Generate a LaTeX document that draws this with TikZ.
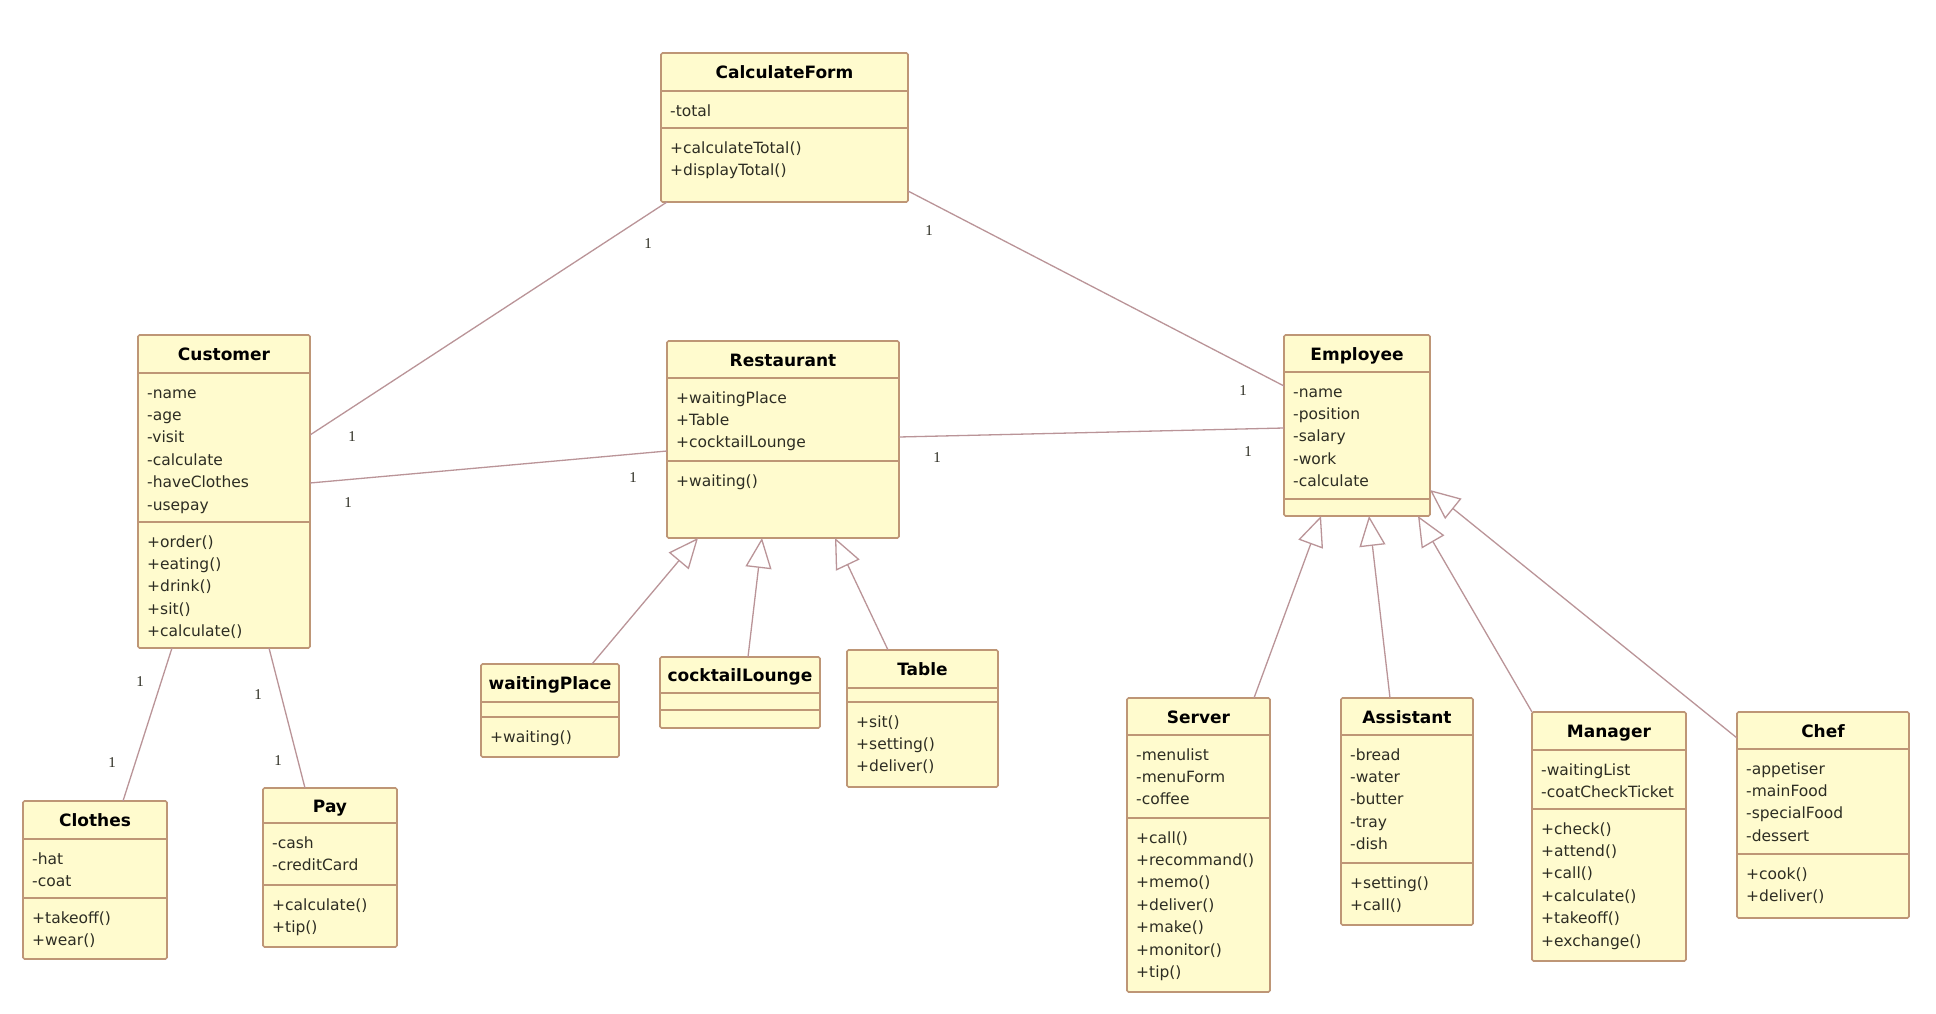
\documentclass[tikz,border=0pt]{standalone}
\usepackage{fontspec}
\setmainfont{DejaVu Sans}
\newfontfamily\ttlfont{DejaVu Sans}
\newfontfamily\numfont{Liberation Serif}
\usetikzlibrary{arrows.meta,calc}
\definecolor{boxc}{RGB}{190,150,118}
\definecolor{fillc}{RGB}{255,251,206}
\definecolor{linec}{RGB}{186,148,152}
\definecolor{txtc}{RGB}{45,45,35}
\tikzset{
 x=1pt,y=-1pt,
 cls/.style={draw=boxc, fill=fillc, line width=1.6pt, rounded corners=1.5pt, anchor=north west, inner sep=0pt, outer sep=0pt},
 sepl/.style={draw=boxc, line width=1.4pt},
 ttl/.style={font=\ttlfont\bfseries\fontsize{17}{20}\selectfont, anchor=base, inner sep=0pt},
 lst/.style={font=\fontsize{15.5}{22.4}\selectfont, align=left, anchor=north west, inner sep=0pt, text=txtc},
 assoc/.style={draw=linec, line width=1.3pt},
 gen/.style={draw=linec, line width=1.3pt, -{Triangle[open, length=30pt, width=26pt]}},
 mult/.style={font=\numfont\fontsize{15}{15}\selectfont, text=txtc, inner sep=0pt},
}
\newcommand\umlcls[8]{%
 \node[cls, minimum width=#4pt, minimum height=#5pt] (#1) at (#2,#3) {};
 \draw[sepl] ($(#1.north west)+(0,#6)$) -- ($(#1.north east)+(0,#6)$);
 \draw[sepl] ($(#1.north west)+(0,#7)$) -- ($(#1.north east)+(0,#7)$);
 \node[ttl] (#1-t) at ($(#1.north)+(0,#6/2+6.5)$) {#8};
}
\newcommand\umltext[4]{\node[lst] (#1-#4) at ($(#1.north west)+(9,#2+9.3)$) {\strut #3};}
\begin{document}
\begin{tikzpicture}
\useasboundingbox[fill=white] (0,0) rectangle (1936,1014);
% classes
\umlcls{calc}{661}{53}{247}{149}{38}{75}{CalculateForm}
\umltext{calc}{38}{-total}{a}
\umltext{calc}{75}{+calculateTotal()\\+displayTotal()}{m}

\umlcls{cust}{138}{335}{172}{313}{38}{187}{Customer}
\umltext{cust}{38}{-name\\-age\\-visit\\-calculate\\-haveClothes\\-usepay}{a}
\umltext{cust}{187}{+order()\\+eating()\\+drink()\\+sit()\\+calculate()}{m}

\umlcls{rest}{667}{341}{232}{197}{37}{120}{Restaurant}
\umltext{rest}{37}{+waitingPlace\\+Table\\+cocktailLounge}{a}
\umltext{rest}{120}{+waiting()}{m}

\umlcls{emp}{1284}{335}{146}{181}{37}{164}{Employee}
\umltext{emp}{37}{-name\\-position\\-salary\\-work\\-calculate}{a}

\umlcls{clo}{23}{801}{144}{158}{38}{97}{Clothes}
\umltext{clo}{38}{-hat\\-coat}{a}
\umltext{clo}{97}{+takeoff()\\+wear()}{m}

\umlcls{pay}{263}{788}{134}{159}{35}{97}{Pay}
\umltext{pay}{35}{-cash\\-creditCard}{a}
\umltext{pay}{97}{+calculate()\\+tip()}{m}

\umlcls{wp}{481}{664}{138}{93}{38}{53}{waitingPlace}
\umltext{wp}{53}{+waiting()}{m}

\umlcls{cl}{660}{657}{160}{71}{36}{53}{cocktailLounge}

\umlcls{tbl}{847}{650}{151}{137}{38}{52}{Table}
\umltext{tbl}{52}{+sit()\\+setting()\\+deliver()}{m}

\umlcls{srv}{1127}{698}{143}{294}{37}{120}{Server}
\umltext{srv}{37}{-menulist\\-menuForm\\-coffee}{a}
\umltext{srv}{120}{+call()\\+recommand()\\+memo()\\+deliver()\\+make()\\+monitor()\\+tip()}{m}

\umlcls{ast}{1341}{698}{132}{227}{37}{165}{Assistant}
\umltext{ast}{37}{-bread\\-water\\-butter\\-tray\\-dish}{a}
\umltext{ast}{165}{+setting()\\+call()}{m}

\umlcls{mgr}{1532}{712}{154}{249}{38}{97}{Manager}
\umltext{mgr}{38}{-waitingList\\-coatCheckTicket}{a}
\umltext{mgr}{97}{+check()\\+attend()\\+call()\\+calculate()\\+takeoff()\\+exchange()}{m}

\umlcls{chef}{1737}{712}{172}{206}{37}{142}{Chef}
\umltext{chef}{37}{-appetiser\\-mainFood\\-specialFood\\-dessert}{a}
\umltext{chef}{142}{+cook()\\+deliver()}{m}

% associations
\draw[assoc] ($(calc.south west)+(6,0)$) -- ($(cust.north east)+(0,100)$);
\draw[assoc] ($(calc.north east)+(0,138)$) -- ($(emp.north west)+(0,51)$);
\draw[assoc] ($(cust.north east)+(0,148)$) -- ($(rest.north west)+(0,110)$);
\draw[assoc] ($(rest.north east)+(0,96)$) -- ($(emp.north west)+(0,93)$);
\draw[assoc] ($(cust.south west)+(34,0)$) -- ($(clo.north west)+(100,0)$);
\draw[assoc] ($(cust.south west)+(131,0)$) -- ($(pay.north west)+(42,0)$);
% generalizations
\draw[gen] ($(wp.north west)+(111,0)$) -- ($(rest.south west)+(31,0)$);
\draw[gen] ($(cl.north west)+(88,0)$) -- ($(rest.south west)+(95,0)$);
\draw[gen] ($(tbl.north west)+(41,0)$) -- ($(rest.south west)+(168,0)$);
\draw[gen] ($(srv.north west)+(127,0)$) -- ($(emp.south west)+(37,0)$);
\draw[gen] ($(ast.north west)+(49,0)$) -- ($(emp.south west)+(85,0)$);
\draw[gen] (mgr.north west) -- ($(emp.south west)+(134,0)$);
\draw[gen] ($(chef.north west)+(0,26)$) -- ($(emp.north east)+(0,155)$);
% multiplicities
\node[mult] (m1) at (648,244) {1};
\node[mult] (m2) at (352,437) {1};
\node[mult] (m3) at (929,231) {1};
\node[mult] (m4) at (1243,391) {1};
\node[mult] (m5) at (348,503) {1};
\node[mult] (m6) at (633,478) {1};
\node[mult] (m7) at (937,458) {1};
\node[mult] (m8) at (1248,452) {1};
\node[mult] (m9) at (140,682) {1};
\node[mult] (m10) at (112,763) {1};
\node[mult] (m11) at (258,695) {1};
\node[mult] (m12) at (278,761) {1};
\end{tikzpicture}
\end{document}
